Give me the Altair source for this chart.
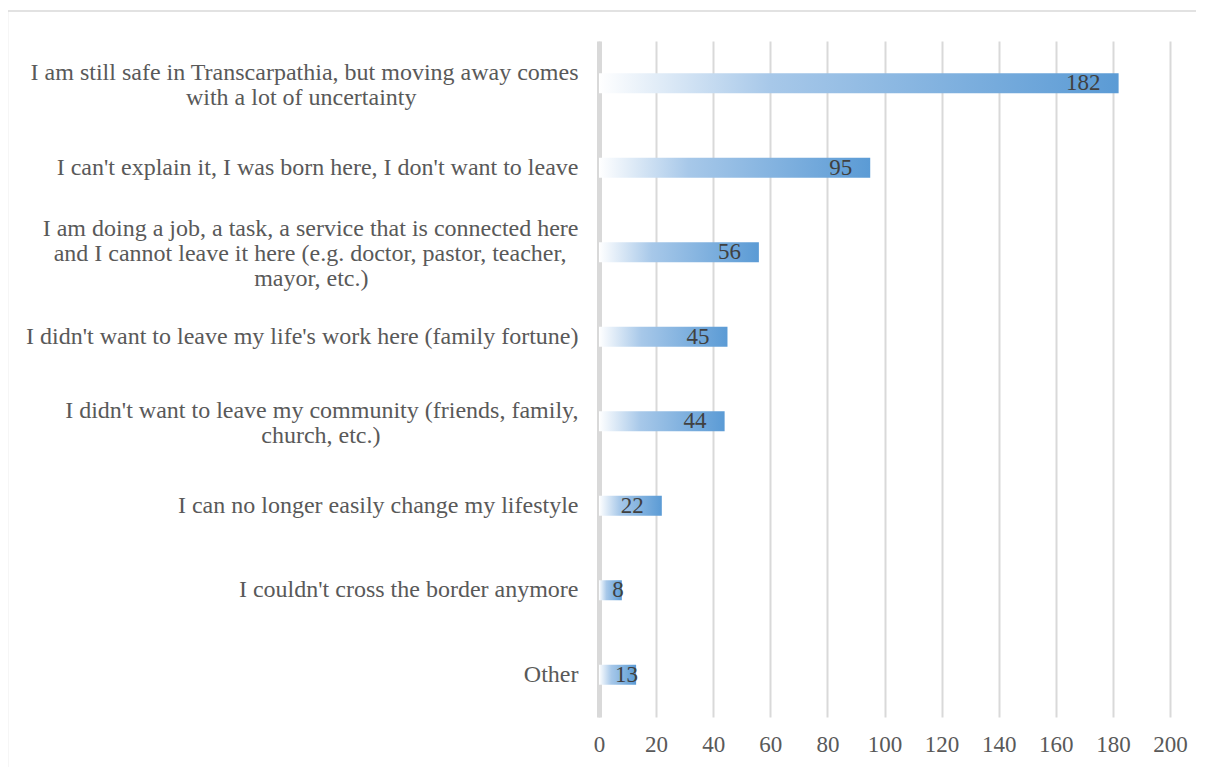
import altair as alt
import pandas as pd

# ---- data ----
label_lines = [
    ["I am still safe in Transcarpathia, but moving away comes", "with a lot of uncertainty"],
    ["I can't explain it, I was born here, I don't want to leave"],
    ["I am doing a job, a task, a service that is connected here",
     "and I cannot leave it here (e.g. doctor, pastor, teacher,",
     "mayor, etc.)"],
    ["I didn't want to leave my life's work here (family fortune)"],
    ["I didn't want to leave my community (friends, family,", "church, etc.)"],
    ["I can no longer easily change my lifestyle"],
    ["I couldn't cross the border anymore"],
    ["Other"],
]
values = [182, 95, 56, 45, 44, 22, 8, 13]
x_ticks = [0, 20, 40, 60, 80, 100, 120, 140, 160, 180, 200]

# Times-like advance widths (1/1000 em) used only to centre wrapped lines
W = {' ': 250, ',': 250, '.': 250, "'": 180, '(': 333, ')': 333, '-': 333,
     'A': 722, 'B': 667, 'C': 667, 'D': 722, 'E': 611, 'F': 556, 'G': 722, 'H': 722,
     'I': 333, 'J': 389, 'K': 722, 'L': 611, 'M': 889, 'N': 722, 'O': 722, 'P': 556,
     'Q': 722, 'R': 667, 'S': 556, 'T': 611, 'U': 722, 'V': 722, 'W': 944, 'X': 722,
     'Y': 722, 'Z': 611, 'a': 444, 'b': 500, 'c': 444, 'd': 500, 'e': 444, 'f': 333,
     'g': 500, 'h': 500, 'i': 278, 'j': 278, 'k': 500, 'l': 278, 'm': 778, 'n': 500,
     'o': 500, 'p': 500, 'q': 500, 'r': 333, 's': 389, 't': 278, 'u': 500, 'v': 500,
     'w': 722, 'x': 500, 'y': 500, 'z': 444}


def tw(s):
    return sum(W.get(ch, 500) for ch in s)


def centred(lines):
    m = max(tw(l) for l in lines)
    out = []
    for l in lines:
        n = int(round((m - tw(l)) / 2 / 250))
        out.append(l + ("\u00a0" * n + "\u200b" if n else ""))
    return "\n".join(out)


categories = [centred(l) for l in label_lines]

df = pd.DataFrame({"cat": categories, "v": values})

FONT = "Liberation Serif"
W_PLOT, H_PLOT = 571, 676
PAD_L, PAD_T, PAD_R, PAD_B = 591, 33, 26, 50

grad = alt.Gradient(
    gradient="linear",
    stops=[
        alt.GradientStop(color="#ffffff", offset=0),
        alt.GradientStop(color="#a7c8e9", offset=0.33),
        alt.GradientStop(color="#5b9bd5", offset=1),
    ],
    x1=0, x2=1, y1=0, y2=0,
)

y_enc = alt.Y(
    "cat:N", sort=categories, title=None,
    scale=alt.Scale(paddingInner=0, paddingOuter=0),
    axis=alt.Axis(
        labelExpr="split(datum.label, '\\n')",
        labelFont=FONT, labelFontSize=24, labelColor="#595959",
        labelLineHeight=25, labelPadding=21, labelAlign="right",
        labelOffset={
            "condition": [
                {"test": "length(split(datum.value, '\\n')) == 3", "value": -23},
                {"test": "length(split(datum.value, '\\n')) == 2", "value": -10},
            ],
            "value": 0,
        },
        ticks=False, tickSize=0, labelLimit=1000,
        domainColor="#d9d9d9", domainWidth=5, grid=False,
    ),
)
x_enc = alt.X(
    "v:Q", title=None,
    scale=alt.Scale(domain=[0, 200], nice=False),
    axis=alt.Axis(
        values=x_ticks, labelFont=FONT, labelFontSize=23, labelColor="#595959",
        labelPadding=16, ticks=False, tickSize=0, domain=False,
        labelFlush=False, labelOverlap=False,
        grid=True, gridColor="#d9d9d9", gridWidth=2,
    ),
)

base = alt.Chart(df)

bars = base.mark_bar(size=20, color=grad).encode(x=x_enc, y=y_enc)

labels_big = base.transform_filter("datum.v >= 15").mark_text(
    align="right", baseline="middle", dx=-18, font=FONT, fontSize=23, color="#404040"
).encode(x="v:Q", y=alt.Y("cat:N", sort=categories), text="v:Q")

labels_small = base.transform_filter("datum.v < 15").mark_text(
    align="right", baseline="middle", dx=2, font=FONT, fontSize=23, color="#404040"
).encode(x="v:Q", y=alt.Y("cat:N", sort=categories), text="v:Q")

# outer chart frame (decoration)
frame_top = alt.Chart(pd.DataFrame({"a": [0]})).mark_rule(
    color="#d9d9d9", strokeWidth=1.5
).encode(
    x=alt.value(-591.5), x2=alt.value(W_PLOT + PAD_R), y=alt.value(-30)
)
frame_left = alt.Chart(pd.DataFrame({"a": [0]})).mark_rule(
    color="#d9d9d9", strokeWidth=1.5
).encode(
    x=alt.value(-591.5), y=alt.value(-30), y2=alt.value(H_PLOT + PAD_B)
)

chart = alt.layer(bars, labels_big, labels_small, frame_top, frame_left).properties(
    width=W_PLOT, height=H_PLOT,
    autosize=alt.AutoSizeParams(type="none"),
    padding={"left": PAD_L, "top": PAD_T, "right": PAD_R, "bottom": PAD_B},
    background="white",
).configure_view(stroke=None)

chart.save("out.html", embed_options={"renderer": "svg", "actions": False})
